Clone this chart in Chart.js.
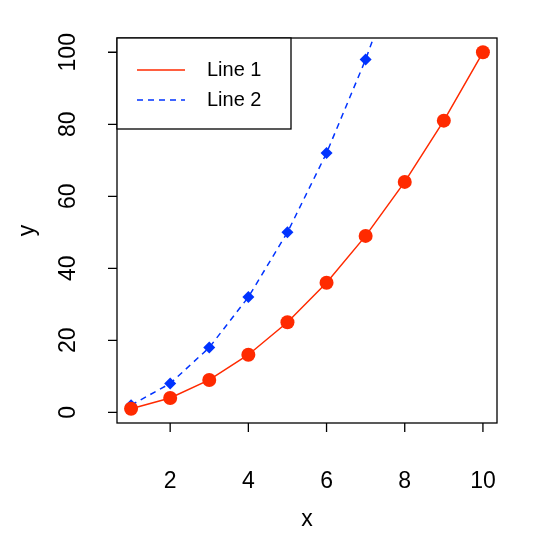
<!DOCTYPE html>
<html><head><meta charset="utf-8">
<script src="https://cdn.jsdelivr.net/npm/chart.js@4"></script>
<style>html,body{margin:0;padding:0;background:#fff}</style>
</head><body>
<div style="width:537px;height:537px"><canvas id="c"></canvas></div>
<script>
// values
const xs = [1, 2, 3, 4, 5, 6, 7, 8, 9, 10];
const line1 = [1, 4, 9, 16, 25, 36, 49, 64, 81, 100];
const line2 = [2, 8, 18, 32, 50, 72, 98, 128];
const xTicks = [2, 4, 6, 8, 10];
const yTicks = [0, 20, 40, 60, 80, 100];
const names = ['Line 1', 'Line 2'];
const RED = '#FF2A00', BLUE = '#0033FF';

// R-style frame, ticks, rotated y labels and legend
const rAxes = {
  id: 'rAxes',
  afterDraw(chart){
    const ctx = chart.ctx, a = chart.chartArea;
    const sx = chart.scales.x, sy = chart.scales.y;
    ctx.save();
    ctx.strokeStyle = '#000'; ctx.lineWidth = 1.3; ctx.setLineDash([]);
    ctx.strokeRect(a.left, a.top, a.right - a.left, a.bottom - a.top);
    ctx.fillStyle = '#000'; ctx.font = '23px "Liberation Sans", Arial, sans-serif';
    // x axis
    ctx.beginPath();
    xTicks.forEach(v=>{ const p = sx.getPixelForValue(v); ctx.moveTo(p, a.bottom); ctx.lineTo(p, a.bottom + 9); });
    ctx.stroke();
    ctx.textAlign = 'center'; ctx.textBaseline = 'middle';
    xTicks.forEach(v=> ctx.fillText(String(v), sx.getPixelForValue(v), a.bottom + 59));
    ctx.fillText('x', (a.left + a.right)/2, 520);
    // y axis
    ctx.beginPath();
    yTicks.forEach(v=>{ const p = sy.getPixelForValue(v); ctx.moveTo(a.left, p); ctx.lineTo(a.left - 9, p); });
    ctx.stroke();
    yTicks.forEach(v=>{
      ctx.save(); ctx.translate(69, sy.getPixelForValue(v)); ctx.rotate(-Math.PI/2);
      ctx.fillText(String(v), 0, 0); ctx.restore();
    });
    ctx.save(); ctx.translate(28, (a.top + a.bottom)/2); ctx.rotate(-Math.PI/2);
    ctx.fillText('y', 0, 0); ctx.restore();
    // legend
    ctx.fillStyle = '#fff';
    ctx.fillRect(a.left, a.top, 174, 91);
    ctx.strokeRect(a.left, a.top, 174, 91);
    ctx.lineWidth = 1.5;
    ctx.font = '20px "Liberation Sans", Arial, sans-serif';
    chart.data.datasets.forEach((ds, i)=>{
      const y = a.top + 32 + i*30;
      ctx.strokeStyle = ds.borderColor; ctx.setLineDash(ds.borderDash || []);
      ctx.beginPath(); ctx.moveTo(a.left + 20, y); ctx.lineTo(a.left + 68, y); ctx.stroke();
      ctx.fillStyle = '#000'; ctx.textAlign = 'left';
      ctx.fillText(ds.label, a.left + 90, y);
    });
    ctx.restore();
  }
};

new Chart(document.getElementById('c'), {
  type: 'line',
  data: {
    datasets: [
      {label: names[0], data: xs.map((x,i)=>({x, y: line1[i]})), borderColor: RED, backgroundColor: RED,
       borderWidth: 1.5, pointStyle: 'circle', pointRadius: 7, pointBorderWidth: 0, tension: 0},
      {label: names[1], data: line2.map((y,i)=>({x: xs[i], y})), borderColor: BLUE, backgroundColor: BLUE,
       borderWidth: 1.5, borderDash: [6, 5], pointStyle: 'rectRot', pointRadius: 6, pointBorderWidth: 0, tension: 0}
    ]
  },
  options: {
    responsive: true, maintainAspectRatio: false, animation: false,
    layout: {padding: {left: 117, right: 40, top: 38, bottom: 114}},
    plugins: {legend: {display: false}, tooltip: {enabled: false}},
    scales: {
      x: {type: 'linear', min: 0.64, max: 10.36, display: false},
      y: {type: 'linear', min: -2.96, max: 103.96, display: false}
    }
  },
  plugins: [rAxes]
});
</script>
</body></html>
